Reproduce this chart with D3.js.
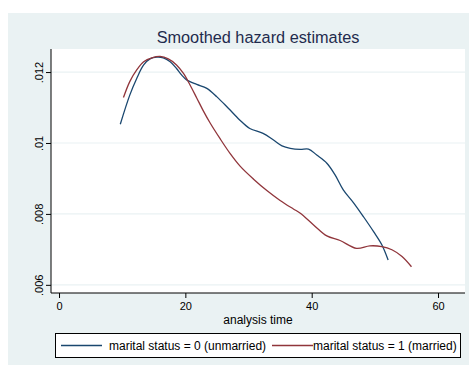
<!DOCTYPE html>
<html>
<head>
<meta charset="utf-8">
<script src="https://cdn.jsdelivr.net/npm/d3@7"></script>
<style>
  body { margin: 0; background: #fff; }
  text { font-family: "Liberation Sans", Arial, sans-serif; }
</style>
</head>
<body>
<div class="canvas"></div>
<script>
// smoothed hazard, marital status = 0 (unmarried)
const unmarried = [
  [9.7, .01053], [11.2, .01135], [12.3, .01182], [13.4, .01220], [14.4, .01237],
  [15.5, .01242], [16.5, .01240], [17.6, .01229], [18.6, .01210], [19.4, .01192],
  [20.2, .01178], [21.8, .01165], [23.4, .01154], [25.0, .01130], [26.8, .01098],
  [28.6, .01065], [30.2, .01041], [32.3, .01027], [33.9, .01009], [35.3, .00992],
  [36.6, .00985], [38.2, .00982], [39.5, .00983], [40.8, .00966], [42.4, .00943],
  [43.7, .00910], [45.0, .00868], [46.6, .00832], [48.2, .00792], [49.8, .00750],
  [51.1, .00713], [52.1, .00670]
];
// smoothed hazard, marital status = 1 (married)
const married = [
  [10.2, .01128], [11.2, .01173], [12.3, .01206], [13.4, .01229], [14.7, .01240],
  [16.0, .01244], [17.3, .01237], [18.6, .01220], [19.7, .01196], [20.7, .01165],
  [21.8, .01127], [22.8, .01092], [23.9, .01057], [25.5, .01012], [27.1, .00970],
  [28.7, .00934], [30.8, .00898], [32.9, .00866], [35.0, .00838], [37.1, .00814],
  [38.2, .00802], [40.3, .00769], [42.4, .00738], [44.5, .00725], [47.1, .00703],
  [49.2, .00710], [51.1, .00708], [52.7, .00699], [54.3, .00680], [55.8, .00651]
];
const xTicks = [0, 20, 40, 60];
const yTicks = [.006, .008, .01, .012];
const yTickLabels = ['.006', '.008', '.01', '.012'];
const seriesNames = ['marital status = 0 (unmarried)', 'marital status = 1 (married)'];
const seriesColors = ['#1a476f', '#90353b'];

const width = 469, height = 365;
const svg = d3.select('.canvas')
    .append('svg')
    .attr('width', width)
    .attr('height', height);

// outer graph region
svg.append('rect')
    .attr('x', 8).attr('y', 13)
    .attr('width', width - 8).attr('height', height - 13)
    .attr('fill', '#eaf2f3');

const plot = { left: 51, top: 49, right: 465, bottom: 293 };

svg.append('rect')
    .attr('x', plot.left).attr('y', plot.top)
    .attr('width', plot.right - plot.left).attr('height', plot.bottom - plot.top)
    .attr('fill', '#fff');

const x = d3.scaleLinear()
    .domain([-1.27, 64.27])
    .range([plot.left, plot.right]);
const y = d3.scaleLinear()
    .domain([.00577, .01265])
    .range([plot.bottom, plot.top]);

// gridlines
svg.append('g')
    .selectAll('line')
    .data(yTicks)
    .enter()
    .append('line')
    .attr('x1', plot.left).attr('x2', plot.right)
    .attr('y1', d => y(d)).attr('y2', d => y(d))
    .attr('stroke', '#eaf2f3')
    .attr('stroke-width', 1.2);

// lines
const line = d3.line()
    .x(d => x(d[0]))
    .y(d => y(d[1]))
    .curve(d3.curveCatmullRom);

[unmarried, married].forEach((s, i) => {
    svg.append('path')
        .datum(s)
        .attr('d', line)
        .attr('fill', 'none')
        .attr('stroke', seriesColors[i])
        .attr('stroke-width', 1.3);
});

// axes
const xAxis = d3.axisBottom(x).tickValues(xTicks).tickSize(5).tickPadding(4);
const yAxis = d3.axisLeft(y).tickValues(yTicks).tickSize(5)
    .tickFormat((d, i) => yTickLabels[i]);

const xAxisGroup = svg.append('g')
    .attr('transform', `translate(0, ${plot.bottom})`)
    .call(xAxis);
const yAxisGroup = svg.append('g')
    .attr('transform', `translate(${plot.left}, 0)`)
    .call(yAxis);

[xAxisGroup, yAxisGroup].forEach(g => {
    g.select('.domain').attr('stroke', '#000');
    g.selectAll('.tick line').attr('stroke', '#000');
    g.selectAll('text')
        .attr('fill', '#000')
        .attr('font-size', 11)
        .attr('font-family', '"Liberation Sans", Arial, sans-serif');
});
xAxisGroup.select('.domain').attr('d', `M${plot.left},0H${plot.right}`);
yAxisGroup.select('.domain').attr('d', `M0,${plot.top}V${plot.bottom}`);

yAxisGroup.selectAll('text')
    .attr('transform', 'rotate(-90)')
    .attr('x', 0)
    .attr('y', -8)
    .attr('dy', 0)
    .attr('text-anchor', 'middle');

// title and axis title
svg.append('text')
    .attr('x', (plot.left + plot.right) / 2)
    .attr('y', 43)
    .attr('text-anchor', 'middle')
    .attr('font-size', 16.3)
    .attr('fill', '#1f2b4d')
    .text('Smoothed hazard estimates');

svg.append('text')
    .attr('x', (plot.left + plot.right) / 2)
    .attr('y', 324)
    .attr('text-anchor', 'middle')
    .attr('font-size', 12)
    .text('analysis time');

// legend
const legend = svg.append('g');
legend.append('rect')
    .attr('x', 55.5).attr('y', 333.5)
    .attr('width', 405).attr('height', 24)
    .attr('fill', '#fff')
    .attr('stroke', '#000');

const legendX = [61, 272];
seriesNames.forEach((name, i) => {
    legend.append('line')
        .attr('x1', legendX[i]).attr('x2', legendX[i] + 41)
        .attr('y1', 345.5).attr('y2', 345.5)
        .attr('stroke', seriesColors[i])
        .attr('stroke-width', 1.3);
    legend.append('text')
        .attr('x', legendX[i] + (i === 0 ? 48 : 41))
        .attr('y', 350)
        .attr('font-size', 12)
        .text(name);
});
</script>
</body>
</html>
